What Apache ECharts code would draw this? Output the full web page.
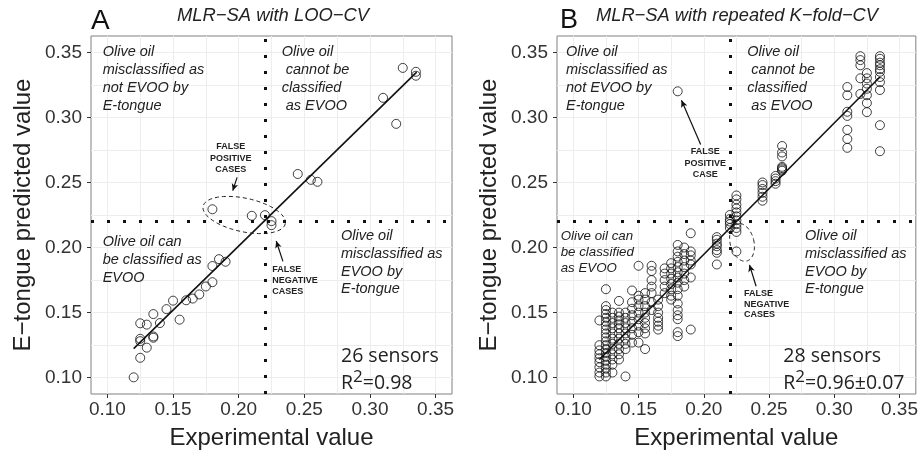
<!DOCTYPE html>
<html>
<head>
<meta charset="utf-8">
<script src="https://cdn.jsdelivr.net/npm/echarts@6/dist/echarts.min.js"></script>
<style>
  html, body { margin: 0; padding: 0; background: #fff; }
  #chart { width: 921px; height: 455px; }
</style>
</head>
<body>
<div id="chart"></div>
<script>
// axis ticks and grid lines
const tickVals = [0.10, 0.15, 0.20, 0.25, 0.30, 0.35];
const gridVals = [0.10, 0.125, 0.15, 0.175, 0.20, 0.225, 0.25, 0.275, 0.30, 0.325, 0.35];
const threshold = 0.22;

// panel A: MLR-SA with LOO-CV
const aExp  = [0.325, 0.335, 0.335, 0.31, 0.32, 0.245, 0.255, 0.26, 0.18, 0.21, 0.22, 0.225, 0.225,
               0.185, 0.19, 0.18, 0.18, 0.175, 0.17, 0.165, 0.16, 0.15, 0.145, 0.155, 0.135, 0.14,
               0.125, 0.13, 0.135, 0.135, 0.125, 0.125, 0.13, 0.125, 0.12];
const aPred = [0.338, 0.335, 0.332, 0.315, 0.295, 0.2565, 0.252, 0.2505, 0.2294, 0.2244, 0.2249, 0.2203, 0.2172,
               0.1911, 0.1891, 0.1858, 0.1734, 0.1701, 0.164, 0.1608, 0.1595, 0.1592, 0.1527, 0.1446, 0.1489, 0.142,
               0.1418, 0.1408, 0.1317, 0.1307, 0.1299, 0.1281, 0.1231, 0.1153, 0.1003];
const aFit = [[0.12, 0.1223], [0.3356, 0.3348]];

// panel B: MLR-SA with repeated K-fold-CV (one list of predictions per experimental value)
const bExp = [0.12, 0.125, 0.13, 0.135, 0.14, 0.145, 0.15, 0.155, 0.16, 0.165, 0.17, 0.175, 0.18,
              0.185, 0.19, 0.21, 0.22, 0.225, 0.245, 0.255, 0.26, 0.31, 0.32, 0.325, 0.335];
const bPred = [
  [0.101, 0.104, 0.108, 0.112, 0.115, 0.118, 0.121, 0.125, 0.144],
  [0.101, 0.104, 0.107, 0.110, 0.113, 0.116, 0.119, 0.122, 0.125, 0.128, 0.131, 0.134, 0.137, 0.140, 0.143, 0.146, 0.149, 0.152, 0.155, 0.168],
  [0.104, 0.110, 0.114, 0.118, 0.122, 0.126, 0.130, 0.134, 0.138, 0.142, 0.146, 0.150],
  [0.114, 0.118, 0.122, 0.126, 0.130, 0.134, 0.138, 0.141, 0.144, 0.147, 0.150, 0.159],
  [0.101, 0.122, 0.126, 0.130, 0.134, 0.138, 0.142, 0.146, 0.150],
  [0.127, 0.133, 0.138, 0.143, 0.148, 0.153, 0.158, 0.167],
  [0.127, 0.135, 0.140, 0.145, 0.150, 0.155, 0.160, 0.163, 0.186],
  [0.122, 0.134, 0.138, 0.142, 0.146, 0.150, 0.155, 0.160, 0.165],
  [0.152, 0.158, 0.165, 0.170, 0.175, 0.182, 0.186],
  [0.137, 0.140, 0.143, 0.146, 0.150, 0.155, 0.160],
  [0.165, 0.170, 0.175, 0.180, 0.184],
  [0.160, 0.163, 0.168, 0.172, 0.176, 0.180, 0.184, 0.188],
  [0.132, 0.135, 0.145, 0.148, 0.152, 0.157, 0.163, 0.168, 0.173, 0.177, 0.181, 0.185, 0.189, 0.193, 0.197, 0.202, 0.320],
  [0.170, 0.175, 0.180, 0.185, 0.190, 0.195, 0.200],
  [0.137, 0.177, 0.187, 0.190, 0.194, 0.197, 0.211],
  [0.187, 0.196, 0.198, 0.201, 0.203, 0.206, 0.208],
  [0.215, 0.218, 0.220, 0.222, 0.225],
  [0.197, 0.212, 0.215, 0.218, 0.221, 0.224, 0.227, 0.230, 0.233, 0.237, 0.240],
  [0.236, 0.239, 0.242, 0.245, 0.248, 0.250],
  [0.249, 0.251, 0.253, 0.255],
  [0.259, 0.260, 0.261, 0.262, 0.270, 0.273, 0.278],
  [0.2766, 0.2834, 0.2904, 0.3011, 0.3043, 0.317, 0.3233],
  [0.318, 0.330, 0.340, 0.344, 0.347],
  [0.304, 0.311, 0.317, 0.322, 0.326, 0.330, 0.334],
  [0.274, 0.294, 0.321, 0.327, 0.331, 0.335, 0.337, 0.340, 0.342, 0.345, 0.347]
];
const bFit = [[0.12, 0.114], [0.335, 0.331]];

// hand-drawn annotations, in data units: [cx, cy, rx, ry, tilt deg]
const ellipseA = [[0.2042, 0.225, 0.032, 0.0129, 12]];
const ellipseB = [[0.2293, 0.204, 0.0091, 0.0148, -14]];
// arrows: [[x0, y0], [x1, y1]]
const arrowsA = [[[0.1988, 0.2539], [0.1955, 0.2437]], [[0.2337, 0.1894], [0.2286, 0.2050]]];
const arrowsB = [[[0.1976, 0.2791], [0.1829, 0.3131]], [[0.2401, 0.1703], [0.2350, 0.1867]]];

const ptsA = aExp.map((x, i) => [x, aPred[i]]);
const ptsB = [];
bExp.forEach((x, i) => bPred[i].forEach(y => ptsB.push([x, y])));

const FONT = '"Liberation Sans", Arial, Helvetica, sans-serif';
const SENS = '"Open Sans", "Liberation Sans", sans-serif';

var dom = document.getElementById('chart');
var myChart = echarts.init(dom, null, { renderer: 'canvas' });

function mainX(grid) {
  return {
    type: 'value', gridIndex: grid, min: 0.0875, max: 0.3625,
    name: 'Experimental value', nameLocation: 'middle', nameGap: 32,
    nameTextStyle: { fontSize: 24, fontFamily: FONT, color: '#222' },
    axisLine: { show: false },
    axisTick: { show: true, length: 4, lineStyle: { color: '#333' }, customValues: tickVals },
    axisLabel: { fontSize: 19, fontFamily: FONT, color: '#333', margin: 6,
                 customValues: tickVals, formatter: v => v.toFixed(2) },
    splitLine: { show: false }
  };
}
function mainY(grid) {
  return {
    type: 'value', gridIndex: grid, min: 0.0875, max: 0.3625,
    name: 'E\u2212tongue predicted value', nameLocation: 'middle', nameGap: 56,
    nameTextStyle: { fontSize: 24, fontFamily: FONT, color: '#222' },
    axisLine: { show: false },
    axisTick: { show: true, length: 4, lineStyle: { color: '#333' }, customValues: tickVals },
    axisLabel: { fontSize: 19, fontFamily: FONT, color: '#333', margin: 9,
                 customValues: tickVals, formatter: v => v.toFixed(2) },
    splitLine: { show: false }
  };
}
function gridAxis(grid) {
  return {
    type: 'value', gridIndex: grid, min: 0.0875, max: 0.3625,
    axisLine: { show: false },
    axisTick: { show: false, customValues: gridVals },
    axisLabel: { show: false },
    splitLine: { show: true, lineStyle: { color: '#ededed', width: 1 } }
  };
}

function ellipseSeries(xi, yi, data) {
  return {
    type: 'custom', xAxisIndex: xi, yAxisIndex: yi, silent: true, z: 4,
    data: data,
    renderItem: function (params, api) {
      const c = api.coord([api.value(0), api.value(1)]);
      const rx = api.size([api.value(2), 0])[0];
      const ry = api.size([0, api.value(3)])[1];
      const t = api.value(4) * Math.PI / 180;
      const pts = [];
      for (let k = 0; k <= 72; k++) {
        const a = k / 72 * Math.PI * 2;
        const ex = rx * Math.cos(a), ey = ry * Math.sin(a);
        pts.push([c[0] + ex * Math.cos(t) - ey * Math.sin(t), c[1] + ex * Math.sin(t) + ey * Math.cos(t)]);
      }
      return { type: 'polyline', shape: { points: pts },
               style: { stroke: '#222', lineWidth: 1, fill: null, lineDash: [4, 3] } };
    }
  };
}

function scatterSeries(xi, yi, data, arrows) {
  return {
    type: 'scatter', xAxisIndex: xi, yAxisIndex: yi, data: data,
    symbol: 'circle', symbolSize: 9,
    itemStyle: { color: 'rgba(0,0,0,0)', borderColor: '#111', borderWidth: 1 },
    markLine: {
      silent: true, symbol: 'none', animation: false,
      label: { show: false },
      lineStyle: { color: '#111', width: 3, type: [3, 13], cap: 'butt' },
      data: [{ xAxis: threshold }, { yAxis: threshold }].concat(
        arrows.map(a => [
          { coord: a[0], symbol: 'none', lineStyle: { width: 1.2, type: 'solid' } },
          { coord: a[1], symbol: 'arrow', symbolSize: [5, 7], lineStyle: { width: 1.2, type: 'solid' } }
        ]))
    }
  };
}

function fitSeries(xi, yi, data) {
  return {
    type: 'line', xAxisIndex: xi, yAxisIndex: yi, data: data,
    symbol: 'none', lineStyle: { color: '#111', width: 1.6 }, z: 3
  };
}

function text(x, y, str, font, extra) {
  return Object.assign({ type: 'text', x: x, y: y, z: 50, silent: true,
    style: Object.assign({ text: str, font: font, fill: '#222', textAlign: 'left', textVerticalAlign: 'top' }, extra || {}) });
}
const it = 'italic 14.5px ' + FONT;
const bold = 'bold 9px ' + FONT;

const graphics = [
  // panel A
  text(91, 7, 'A', '28px ' + FONT, { fill: '#111' }),
  text(273, 7, 'MLR\u2212SA with LOO\u2212CV', 'italic 18.4px ' + FONT, { textAlign: 'center' }),
  text(102.7, 42.7, 'Olive oil\nmisclassified as\nnot EVOO by\nE-tongue', it, { lineHeight: 18 }),
  text(281.7, 42.7, 'Olive oil\n cannot be\nclassified\n as EVOO', it, { lineHeight: 18 }),
  text(102.7, 232.7, 'Olive oil can\nbe classified as\nEVOO', it, { lineHeight: 18 }),
  text(341, 227, 'Olive oil\nmisclassified as\nEVOO by\nE-tongue', it, { lineHeight: 17.8 }),
  text(230.7, 141, 'FALSE\nPOSITIVE\nCASES', bold, { textAlign: 'center', lineHeight: 11.5 }),
  text(272.3, 264.5, 'FALSE\nNEGATIVE\nCASES', bold, { lineHeight: 11 }),
  text(341, 356.7, '26 sensors', '19.5px ' + SENS, { textVerticalAlign: 'middle' }),
  text(341, 383.3, '{t|R}{s|2}{t|=0.98}', '19.5px ' + SENS, { textVerticalAlign: 'middle',
    rich: { t: { fontSize: 19.5, fontFamily: SENS }, s: { fontSize: 17, fontFamily: SENS, padding: [0, 0, 12, 0] } } }),
  // panel B
  text(560, 7, 'B', '27px ' + FONT, { fill: '#111' }),
  text(737, 7, 'MLR\u2212SA with repeated K\u2212fold\u2212CV', 'italic 18.3px ' + FONT, { textAlign: 'center' }),
  text(566, 42.7, 'Olive oil\nmisclassified as\nnot EVOO by\nE-tongue', it, { lineHeight: 18 }),
  text(747.3, 42.7, 'Olive oil\n cannot be\nclassified\n as EVOO', it, { lineHeight: 18 }),
  text(560.7, 228, 'Olive oil can\nbe classified\nas EVOO', 'italic 13.3px ' + FONT, { lineHeight: 16.3 }),
  text(805, 227, 'Olive oil\nmisclassified as\nEVOO by\nE-tongue', it, { lineHeight: 17.8 }),
  text(705.3, 146, 'FALSE\nPOSITIVE\nCASE', bold, { textAlign: 'center', lineHeight: 11.6 }),
  text(744, 288.5, 'FALSE\nNEGATIVE\nCASES', bold, { lineHeight: 10.5 }),
  text(783.3, 356.7, '28 sensors', '19.5px ' + SENS, { textVerticalAlign: 'middle' }),
  text(783.3, 383.3, '{t|R}{s|2}{t|=0.96\u00b10.07}', '19.5px ' + SENS, { textVerticalAlign: 'middle',
    rich: { t: { fontSize: 19.5, fontFamily: SENS }, s: { fontSize: 17, fontFamily: SENS, padding: [0, 0, 12, 0] } } })
];

var option = {
  animation: false,
  backgroundColor: '#fff',
  grid: [
    { left: 91, top: 36, width: 361, height: 361, show: true, borderColor: '#808080', borderWidth: 1 },
    { left: 557, top: 36, width: 361, height: 361, show: true, borderColor: '#808080', borderWidth: 1 }
  ],
  xAxis: [mainX(0), gridAxis(0), mainX(1), gridAxis(1)],
  yAxis: [mainY(0), gridAxis(0), mainY(1), gridAxis(1)],
  graphic: graphics,
  series: [
    scatterSeries(0, 0, ptsA, arrowsA),
    fitSeries(0, 0, aFit),
    ellipseSeries(0, 0, ellipseA),
    scatterSeries(2, 2, ptsB, arrowsB),
    fitSeries(2, 2, bFit),
    ellipseSeries(2, 2, ellipseB)
  ]
};

if (option && typeof option === 'object') {
  myChart.setOption(option);
}
window.addEventListener('resize', myChart.resize);
</script>
</body>
</html>
